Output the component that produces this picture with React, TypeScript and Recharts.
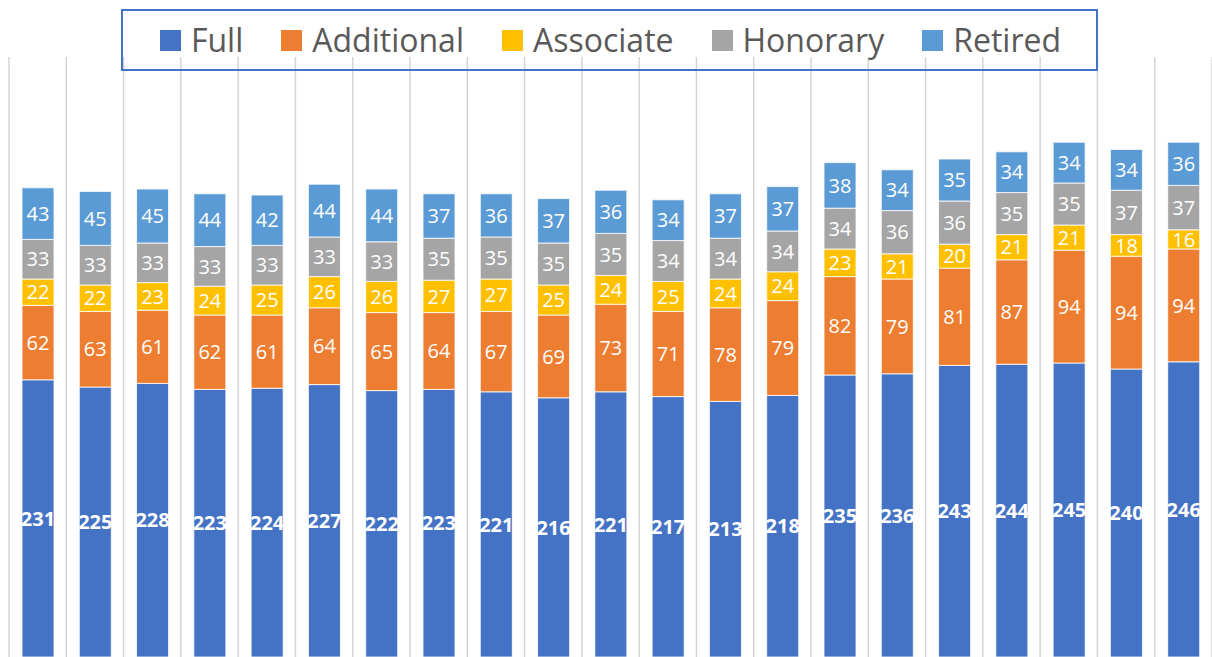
import React from 'react';
import { BarChart, Bar, XAxis, YAxis, CartesianGrid, Legend, LabelList } from 'recharts';

const categories = ['1', '2', '3', '4', '5', '6', '7', '8', '9', '10', '11', '12', '13', '14', '15', '16', '17', '18', '19', '20', '21'];
const full = [231, 225, 228, 223, 224, 227, 222, 223, 221, 216, 221, 217, 213, 218, 235, 236, 243, 244, 245, 240, 246];
const additional = [62, 63, 61, 62, 61, 64, 65, 64, 67, 69, 73, 71, 78, 79, 82, 79, 81, 87, 94, 94, 94];
const associate = [22, 22, 23, 24, 25, 26, 26, 27, 27, 25, 24, 25, 24, 24, 23, 21, 20, 21, 21, 18, 16];
const honorary = [33, 33, 33, 33, 33, 33, 33, 35, 35, 35, 35, 34, 34, 34, 34, 36, 36, 35, 35, 37, 37];
const retired = [43, 45, 45, 44, 42, 44, 44, 37, 36, 37, 36, 34, 37, 37, 38, 34, 35, 34, 34, 34, 36];

const SERIES = [
    { key: 'Full', color: '#4472C4', bold: true },
    { key: 'Additional', color: '#ED7D31', bold: false },
    { key: 'Associate', color: '#FFC000', bold: false },
    { key: 'Honorary', color: '#A5A5A5', bold: false },
    { key: 'Retired', color: '#5B9BD5', bold: false },
];

const FONT = '"Open Sans", "DejaVu Sans", sans-serif';

const data = categories.map((name, i) => ({
    name,
    Full: full[i],
    Additional: additional[i],
    Associate: associate[i],
    Honorary: honorary[i],
    Retired: retired[i],
}));

// legend drawn as a boxed row, like the Excel original
const LegendBox = () => (
    <div
        style={{
            boxSizing: 'border-box',
            width: '100%',
            height: '100%',
            border: '2px solid #4472C4',
            display: 'flex',
            alignItems: 'center',
            justifyContent: 'center',
            gap: 38,
            paddingLeft: 2,
            fontFamily: FONT,
            fontSize: 32,
            color: '#595959',
        }}
    >
        {SERIES.map((s) => (
            <div key={s.key} style={{ display: 'flex', alignItems: 'center' }}>
                <span style={{ width: 21, height: 21, background: s.color, marginRight: 10, display: 'inline-block' }} />
                <span style={{ lineHeight: '40px' }}>{s.key}</span>
            </div>
        ))}
    </div>
);

export default function App() {
    const bands = categories.length;
    return (
        <div style={{ position: 'absolute', left: 0, top: 0, width: 1212, height: 657, overflow: 'hidden', background: '#fff' }}>
            <BarChart
                width={1212}
                height={657}
                data={data}
                margin={{ top: 57, right: 0, bottom: 0, left: 9 }}
                barSize={32}
            >
                <CartesianGrid
                    horizontal={false}
                    stroke="#d4d4d4"
                    strokeWidth={1.5}
                    verticalCoordinatesGenerator={({ offset }: any) =>
                        Array.from({ length: bands + 1 }, (_, i) => offset.left + (i * offset.width) / bands)
                    }
                />
                <XAxis dataKey="name" hide />
                <YAxis hide domain={[0, 500]} />
                <Legend
                    layout="horizontal"
                    verticalAlign="middle"
                    align="center"
                    content={<LegendBox />}
                    wrapperStyle={{ top: 9, left: 121, width: 977, height: 62 }}
                />
                {SERIES.map((s) => (
                    <Bar
                        key={s.key}
                        dataKey={s.key}
                        stackId="a"
                        fill={s.color}
                        stroke="#ffffff"
                        strokeWidth={0.8}
                        isAnimationActive={false}
                    >
                        <LabelList
                            dataKey={s.key}
                            position="center"
                            fill="#ffffff"
                            fontSize={20}
                            fontFamily={FONT}
                            fontWeight={s.bold ? 700 : 400}
                        />
                    </Bar>
                ))}
            </BarChart>
        </div>
    );
}
